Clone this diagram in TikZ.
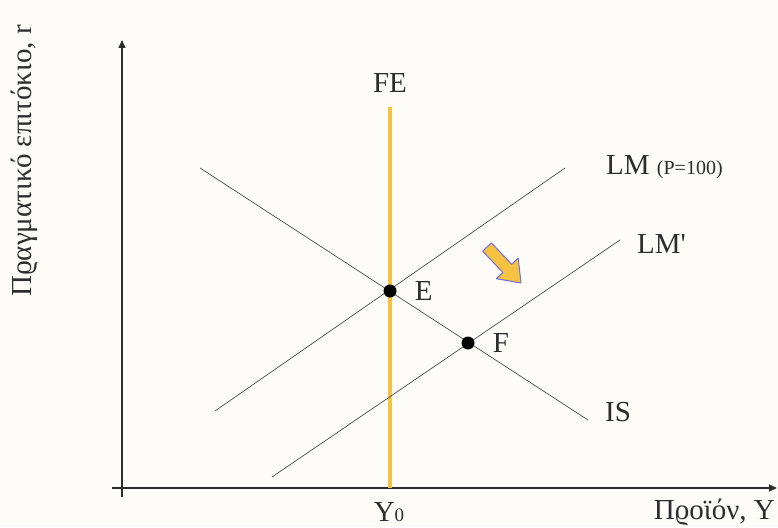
\documentclass[tikz,border=0pt]{standalone}
\usepackage{fontspec}
\setmainfont{Liberation Serif}
\usetikzlibrary{arrows.meta, positioning, calc}
\definecolor{cBg}{RGB}{253,252,249}
\definecolor{cGold}{RGB}{245,194,66}
\definecolor{cEdge}{RGB}{110,110,230}
\definecolor{cInk}{RGB}{45,45,45}
\tikzset{
	axis/.style     ={line width=1.1pt, cInk, -{Triangle[length=8pt,width=7pt]}},
	curve/.style    ={line width=0.7pt, cInk!85},
	fe/.style       ={line width=4pt, cGold},
	dot/.style      ={circle, fill=black, minimum size=13pt, inner sep=0pt},
	lbl/.style      ={font=\fontsize{29}{32}\selectfont, text=cInk, inner sep=0pt},
	shiftarrow/.style={fill=cGold, draw=cEdge, line width=1pt, line join=round},
}
\begin{document}
\begin{tikzpicture}[x=1pt, y=-1pt]
	\fill[cBg] (0,0) rectangle (778,527);
	\useasboundingbox (0,0) rectangle (778,527);
	% axes
	\coordinate (xs) at (112,488);
	\coordinate (xe) at (777,488);
	\coordinate (ys) at (122,497);
	\coordinate (ye) at (122,40);
	\draw[axis] (xs) -- (xe);
	\draw[axis] (ys) -- (ye);
	\node[lbl, rotate=90] (ylab) at (24,161) {Πϱαγματικό επιτόκιο, r};
	\node[lbl, anchor=east] (xlab) at (775,512) {Πϱοϊόν, Y};
	% full employment line
	\coordinate (feb) at (390,488);
	\coordinate (fet) at (390,107);
	\draw[fe] (feb) -- (fet);
	\node[lbl] (felab) at (390,83) {FE};
	\node[lbl] (y0) at (389,512) {Y{\fontsize{19}{19}\selectfont 0}};
	% IS and LM curves
	\coordinate (is1) at (200,168);
	\coordinate (is2) at (588,420);
	\coordinate (lm1) at (215,411);
	\coordinate (lm2) at (565,168);
	\coordinate (lmp1) at (272,477);
	\coordinate (lmp2) at (620,240);
	\draw[curve] (is1) -- (is2);
	\draw[curve] (lm1) -- (lm2);
	\draw[curve] (lmp1) -- (lmp2);
	\node[lbl] (islab) at (618,412) {IS};
	\node[lbl, anchor=west] (lmlab) at (606,167) {LM \fontsize{20}{20}\selectfont(P=100)};
	\node[lbl, anchor=west] (lmplab) at (637,244) {LM\textquotesingle};
	% equilibria
	\node[dot] (E) at (390,291) {};
	\node[dot] (F) at (468,343) {};
	\node[lbl, right=18pt of E] {E};
	\node[lbl, right=18pt of F] {F};
	% shift arrow
	\draw[shiftarrow] (482.6,251.1) -- (491.4,242.9) -- (511.7,264.3) -- (518.2,258.1)
		-- (521,283) -- (496.4,278.7) -- (502.9,272.5) -- cycle;
\end{tikzpicture}
\end{document}
